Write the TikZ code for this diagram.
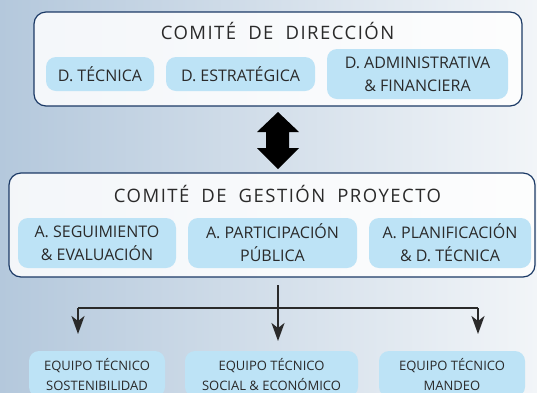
\documentclass[tikz,border=0pt]{standalone}
\usepackage{fontspec}
\setmainfont{Open Sans}
\newfontfamily\titlefont[LetterSpace=8]{Open Sans}
\usetikzlibrary{arrows.meta}

\definecolor{frame}{HTML}{1C3A66}
\definecolor{cell}{HTML}{BDE3F6}
\definecolor{ink}{HTML}{2A2A2A}
\definecolor{seaL}{HTML}{B4C8DC}
\definecolor{seaR}{HTML}{F2F5F8}

\begin{document}
\begin{tikzpicture}[x=1pt,y=-1pt,>={Stealth[length=18pt,width=13pt,inset=5pt]},
  comite/.style={draw=frame,line width=1.2pt,rounded corners=12pt,fill=white,fill opacity=0.85},
  titulo/.style={text=ink,font=\titlefont\fontsize{18.5pt}{22pt}\selectfont},
  area/.style={fill=cell,rounded corners=10pt,text=ink,align=center,inner sep=0pt,
               font=\fontsize{16pt}{23pt}\selectfont},
  equipo/.style={area,font=\fontsize{13pt}{20pt}\selectfont},
  link/.style={line width=2pt,draw=ink}]
  \useasboundingbox (0,0) rectangle (537,392);
  \clip (0,0) rectangle (537,392);
  % sea background
  \shade[left color=seaL,right color=seaR] (0,0) rectangle (537,392);
  % comite de direccion
  \node[comite,minimum width=488pt,minimum height=94pt] (dir) at (278,59) {};
  \node[titulo] (tdir) at (277.5,31) {COMITÉ\hspace{0.65em}DE\hspace{0.65em}DIRECCIÓN};
  \node[area,minimum width=108pt,minimum height=34pt] (dtec) at (100,74) {D. TÉCNICA};
  \node[area,minimum width=149pt,minimum height=34pt] (dest) at (240.5,74) {D. ESTRATÉGICA};
  \node[area,minimum width=181pt,minimum height=50pt] (dadm) at (417.5,74) {D. ADMINISTRATIVA\\\& FINANCIERA};
  % double arrow
  \fill[black] (278,112) -- (299,132) -- (289,132) -- (289,148) -- (299,148) -- (278,169)
    -- (257,148) -- (266,148) -- (266,132) -- (257,132) -- cycle;
  % comite de gestion
  \node[comite,minimum width=526pt,minimum height=104pt] (gest) at (272,225) {};
  \node[titulo] (tgest) at (277.5,194) {COMITÉ\hspace{0.65em}DE\hspace{0.65em}GESTIÓN\hspace{0.65em}PROYECTO};
  \node[area,minimum width=158pt,minimum height=50pt] (aseg) at (97,243) {A. SEGUIMIENTO\\\& EVALUACIÓN};
  \node[area,minimum width=169pt,minimum height=50pt] (apar) at (272.5,243) {A. PARTICIPACIÓN\\PÚBLICA};
  \node[area,minimum width=162pt,minimum height=50pt] (apla) at (450,243) {A. PLANIFICACIÓN\\\& D. TÉCNICA};
  % equipos
  \node[equipo,minimum width=136pt,minimum height=46pt] (eqs) at (97,374) {EQUIPO TÉCNICO\\SOSTENIBILIDAD};
  \node[equipo,minimum width=173pt,minimum height=46pt] (eqe) at (271.5,374) {EQUIPO TÉCNICO\\SOCIAL \& ECONÓMICO};
  \node[equipo,minimum width=146pt,minimum height=46pt] (eqm) at (452,374) {EQUIPO TÉCNICO\\MANDEO};
  % connectors
  \coordinate (top) at (278,285);
  \coordinate (lft) at (78,308);
  \coordinate (rgt) at (478,308);
  \coordinate (mtip) at (278,341);
  \coordinate (ltip) at (78,334);
  \coordinate (rtip) at (478,334);
  \draw[link] (lft) -- (rgt);
  \draw[link,->] (top) -- (mtip);
  \draw[link,->] (lft) -- (ltip);
  \draw[link,->] (rgt) -- (rtip);
\end{tikzpicture}
\end{document}
